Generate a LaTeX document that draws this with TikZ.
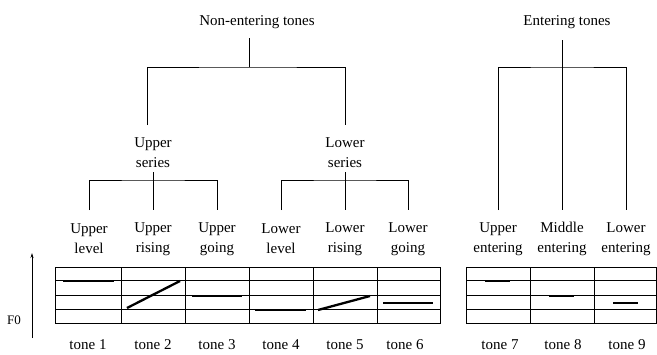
\documentclass[tikz,border=0pt]{standalone}
\usepackage{fontspec}
\setmainfont{Liberation Serif}
\usetikzlibrary{arrows.meta}
\begin{document}
\begin{tikzpicture}[x=1pt,y=-1pt,
  lab/.style={inner sep=0pt,font=\fontsize{15}{20}\selectfont,align=center},
  tree/.style={line width=0.9pt},
  grid/.style={line width=0.9pt},
  tone/.style={line width=2.3pt},
  axis/.style={line width=0.9pt,-{Stealth[length=5pt,width=3pt]}}]
\useasboundingbox[fill=white] (0,0) rectangle (657,354);
% top labels
\node[lab] (non) at (257,22) {Non-entering tones};
\node[lab] (ent) at (567,22) {Entering tones};
% series
\node[lab] (us) at (153,153) {Upper\\series};
\node[lab] (ls) at (345,153) {Lower\\series};
% leaves
\node[lab] (ul) at (89,239) {Upper\\level};
\node[lab] (ur) at (153,239) {Upper\\rising};
\node[lab] (ug) at (217,239) {Upper\\going};
\node[lab] (ll) at (281,239) {Lower\\level};
\node[lab] (lr) at (345,239) {Lower\\rising};
\node[lab] (lg) at (408,239) {Lower\\going};
\node[lab] (ue) at (498,239) {Upper\\entering};
\node[lab] (me) at (562,239) {Middle\\entering};
\node[lab] (le) at (626,239) {Lower\\entering};
% junction coordinates
\coordinate (nonS) at (249,38);
\coordinate (nonJ) at (249,67);
\coordinate (usN) at (147,125);
\coordinate (lsN) at (345,125);
\coordinate (usS) at (153,172);
\coordinate (usJ) at (153,180);
\coordinate (lsS) at (345,172);
\coordinate (lsJ) at (345,180);
\coordinate (entS) at (562,40);
\coordinate (entJ) at (562,67);
% tree connectors
\draw[tree] (nonS) -- (nonJ);
\draw[tree] (usN) |- (nonJ) -| (lsN);
\draw[tree] (usS) -- (usJ);
\draw[tree] (89,210) |- (usJ) -| (217,210);
\draw[tree] (usJ) -- (153,210);
\draw[tree] (lsS) -- (lsJ);
\draw[tree] (281,210) |- (lsJ) -| (408,210);
\draw[tree] (lsJ) -- (345,210);
\draw[tree] (entS) -- (entJ);
\draw[tree] (498,210) |- (entJ) -| (626,210);
\draw[tree] (entJ) -- (562,210);
% left table
\draw[grid] (55,267) rectangle (440,323.5);
\foreach \yy in {280.5,295,309.5} \draw[grid] (55,\yy) -- (440,\yy);
\foreach \xx in {121,185,249,313,377} \draw[grid] (\xx,267) -- (\xx,323.5);
% right table
\draw[grid] (466,267) rectangle (656.5,323.5);
\foreach \yy in {280.5,295,309.5} \draw[grid] (466,\yy) -- (656.5,\yy);
\foreach \xx in {530,594} \draw[grid] (\xx,267) -- (\xx,323.5);
% tone contours
\draw[tone] (63,281) -- (114,281);
\draw[tone] (127,308) -- (180,281);
\draw[tone] (192,296) -- (242,296);
\draw[tone] (255,310) -- (306,310);
\draw[tone] (318,310) -- (370,296);
\draw[tone] (383,303) -- (433,303);
\draw[tone] (485,281) -- (510,281);
\draw[tone] (549,296) -- (574,296);
\draw[tone] (613,303) -- (638,303);
% F0 axis
\coordinate (axB) at (32,338);
\coordinate (axT) at (32,253);
\draw[axis] (axB) -- (axT);
\node[lab,font=\fontsize{13}{15}\selectfont] (f0) at (14,320) {F0};
% tone labels
\node[lab] (t1) at (88,344.5) {tone 1};
\node[lab] (t2) at (153,344.5) {tone 2};
\node[lab] (t3) at (217,344.5) {tone 3};
\node[lab] (t4) at (281,344.5) {tone 4};
\node[lab] (t5) at (345,344.5) {tone 5};
\node[lab] (t6) at (405,344.5) {tone 6};
\node[lab] (t7) at (500,344.5) {tone 7};
\node[lab] (t8) at (563,344.5) {tone 8};
\node[lab] (t9) at (627,344.5) {tone 9};
\end{tikzpicture}
\end{document}
